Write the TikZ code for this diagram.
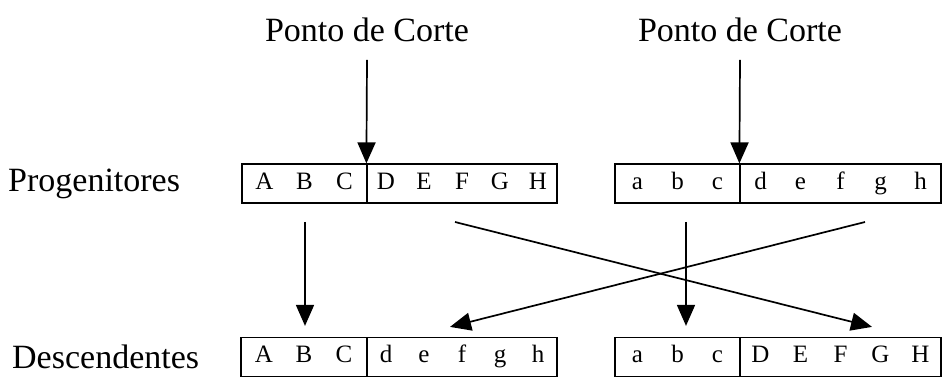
\documentclass[tikz,border=0pt]{standalone}
\usepackage{fontspec}
\setmainfont{Liberation Serif}
\usetikzlibrary{arrows.meta}
\newcommand\cellbox[2]{\makebox[#1]{#2}}
\begin{document}
\begin{tikzpicture}[x=1pt,y=1pt,
  part/.style={draw, line width=1.2pt, minimum height=39pt, inner sep=0pt,
    text height=17pt, text depth=5pt, font=\fontsize{25}{25}\selectfont},
  lbl/.style={font=\fontsize{34}{34}\selectfont, inner sep=0pt},
  arr/.style={line width=1.7pt, -{Triangle[length=21pt,width=18pt]}}]
\useasboundingbox (0,0) rectangle (943,377);
% labels
\node[lbl] (cut1) at (367,347) {Ponto de Corte};
\node[lbl] (cut2) at (740,347) {Ponto de Corte};
\node[lbl, anchor=west] (lprog) at (8,193.5) {Progenitores};
\node[lbl, anchor=west] (ldesc) at (12,20) {Descendentes};
% parents
\node[part, minimum width=125pt] (p1a) at (304.5,193.5) {\cellbox{40pt}{A}\cellbox{40pt}{B}\cellbox{40pt}{C}};
\node[part, minimum width=190pt] (p1b) at (462,193.5) {\cellbox{38pt}{D}\cellbox{38pt}{E}\cellbox{38pt}{F}\cellbox{38pt}{G}\cellbox{38pt}{H}};
\node[part, minimum width=125pt] (p2a) at (677.5,193.5) {\cellbox{40pt}{a}\cellbox{40pt}{b}\cellbox{40pt}{c}};
\node[part, minimum width=201pt] (p2b) at (840.5,193.5) {\cellbox{40pt}{d}\cellbox{40pt}{e}\cellbox{40pt}{f}\cellbox{40pt}{g}\cellbox{40pt}{h}};
% offspring
\node[part, minimum width=126pt] (d1a) at (304,20) {\cellbox{40pt}{A}\cellbox{40pt}{B}\cellbox{40pt}{C}};
\node[part, minimum width=190pt] (d1b) at (462,20) {\cellbox{38pt}{d}\cellbox{38pt}{e}\cellbox{38pt}{f}\cellbox{38pt}{g}\cellbox{38pt}{h}};
\node[part, minimum width=125pt] (d2a) at (677.5,20) {\cellbox{40pt}{a}\cellbox{40pt}{b}\cellbox{40pt}{c}};
\node[part, minimum width=201pt] (d2b) at (840.5,20) {\cellbox{40pt}{D}\cellbox{40pt}{E}\cellbox{40pt}{F}\cellbox{40pt}{G}\cellbox{40pt}{H}};
% arrow start points
\coordinate (c1) at (367,317);
\coordinate (c2) at (740,317);
\coordinate (v1) at (305,155);
\coordinate (v2) at (686,155);
\coordinate (x1) at (455,155);
\coordinate (x2) at (865,155);
% arrows
\draw[arr] (c1) -- (p1b.north west);
\draw[arr] (c2) -- (p2b.north west);
\draw[arr] (v1) -- ([yshift=11pt]v1 |- d1a.north);
\draw[arr] (v2) -- ([yshift=11pt]v2 |- d2a.north);
\draw[arr] (x1) -- ([shift={(31.5pt,10pt)}]d2b.north);
\draw[arr] (x2) -- ([shift={(-12pt,10pt)}]d1b.north);
\end{tikzpicture}
\end{document}
